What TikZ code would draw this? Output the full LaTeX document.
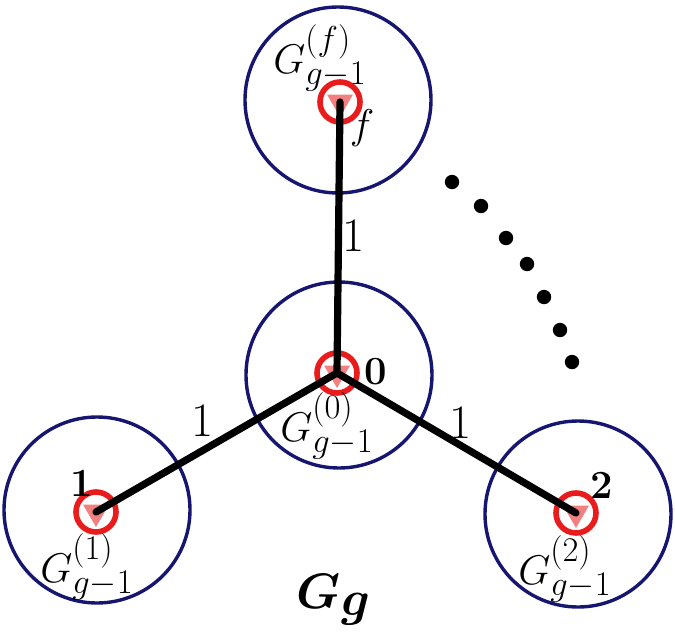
\documentclass[tikz,border=0pt]{standalone}
\usepackage{bm}
\usetikzlibrary{shapes.geometric}
\DeclareMathSizes{22}{22}{19}{14}

\definecolor{ringblue}{RGB}{22,22,112}
\definecolor{hubred}{RGB}{232,28,28}
\definecolor{tripink}{RGB}{242,128,128}

\tikzset{
  cluster/.style={circle, draw=ringblue, line width=1.7pt, minimum size=93pt, inner sep=0pt},
  hub/.style={circle, draw=hubred, line width=2.8pt, minimum size=20pt, inner sep=0pt},
  tri/.style={regular polygon, regular polygon sides=3, shape border rotate=180,
    fill=tripink, minimum size=15pt, inner sep=0pt},
  edge/.style={line width=3.6pt, line cap=round},
  sublabel/.style={font=\fontsize{22}{24}\selectfont, inner sep=0pt},
  hublabel/.style={font=\fontsize{20}{22}\selectfont\bfseries, inner sep=0pt},
  weight/.style={font=\fontsize{24}{26}\selectfont, inner sep=0pt}
}

\begin{document}
\begin{tikzpicture}[x=0.5pt, y=-0.5pt]
  \useasboundingbox (0,0) rectangle (675,643);

  % The four copies of G_{g-1}.
  \node[cluster] (cf) at (338,100) {};
  \node[cluster] (c0) at (339,375) {};
  \node[cluster] (c1) at (97,510) {};
  \node[cluster] (c2) at (578,514) {};

  % Hub vertices: red ring with a pink triangle inside.
  \node[hub] (vf) at (340,102) {};
  \node[hub] (v0) at (337,373) {};
  \node[hub] (v1) at (96,512) {};
  \node[hub] (v2) at (576,513) {};
  \node[tri] (tf) at (vf) {};
  \node[tri] (t0) at (v0) {};
  \node[tri] (t1) at (v1) {};
  \node[tri] (t2) at (v2) {};

  % Edges of weight 1 from the central hub.
  \draw[edge] (v0.center) -- (vf.center);
  \draw[edge] (v0.center) -- (v1.center);
  \draw[edge] (v0.center) -- (v2.center);
  \node[weight] (wf) at (354,236) {1};
  \node[weight] (w1) at (203,421) {1};
  \node[weight] (w2) at (461,423) {1};

  % The other copies, left out.
  \foreach \p in {(452,182),(481,206),(506,238),(527,264),(544,297),(560,330),(572,362)}
    \fill \p circle (3.6pt);

  % Labels.
  \node[hublabel] (lf) at (362,128) {$f$};
  \node[hublabel] (l0) at (376,372) {0};
  \node[hublabel] (l1) at (82,483) {1};
  \node[hublabel] (l2) at (602,485) {2};
  \node[sublabel] (gf) at (320,58) {$G^{(f)}_{g-1}$};
  \node[sublabel] (g0) at (327,426) {$G^{(0)}_{g-1}$};
  \node[sublabel] (g1) at (87,567) {$G^{(1)}_{g-1}$};
  \node[sublabel] (g2) at (565,569) {$G^{(2)}_{g-1}$};
  \node[font=\fontsize{36}{38}\selectfont, inner sep=0pt] (gg) at (334,600) {$\bm{G_g}$};
\end{tikzpicture}
\end{document}
